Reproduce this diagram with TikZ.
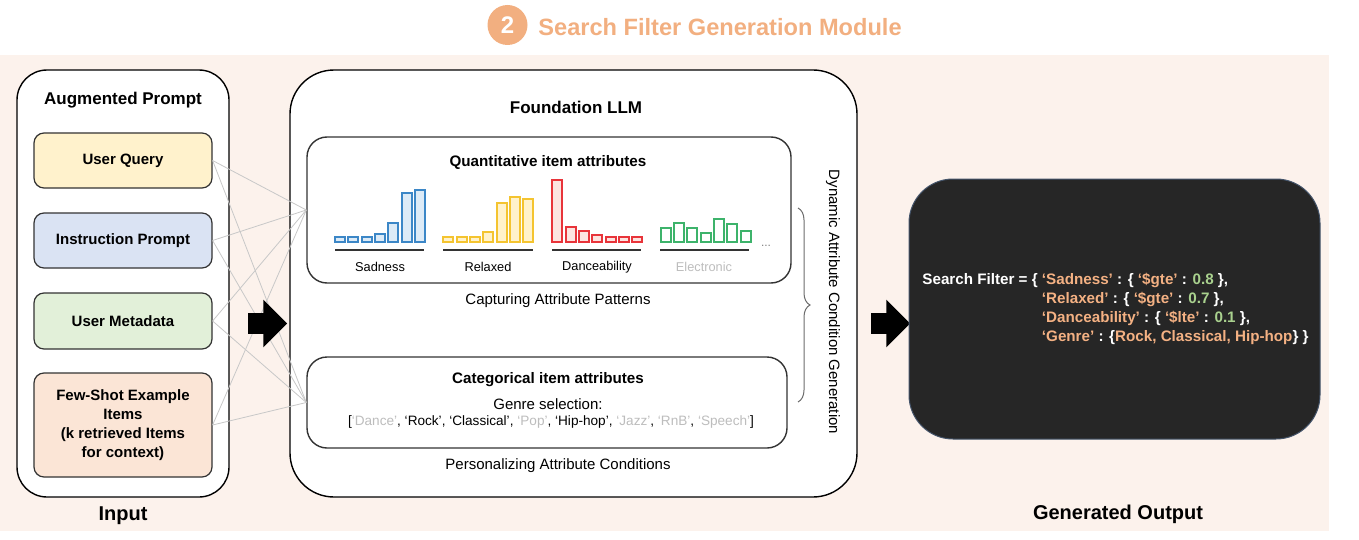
\documentclass[tikz,border=0pt]{standalone}
\usepackage{fontspec}
\setmainfont{Liberation Sans}
\usetikzlibrary{fit,decorations.pathreplacing,shapes.arrows}
\definecolor{bgpeach}{HTML}{FCF2EC}
\definecolor{titleor}{HTML}{F2AF80}
\definecolor{uqc}{HTML}{FFF2CC}
\definecolor{ipc}{HTML}{DAE3F3}
\definecolor{umc}{HTML}{E2F0D9}
\definecolor{fsc}{HTML}{FBE5D6}
\definecolor{edgec}{HTML}{333333}
\definecolor{linkc}{HTML}{C8C8C8}
\definecolor{codebg}{HTML}{262626}
\definecolor{codeedge}{HTML}{44546A}
\definecolor{codeor}{HTML}{F4B183}
\definecolor{codegr}{HTML}{A9D18E}
\definecolor{lightg}{HTML}{BDBDBD}
\definecolor{sadS}{HTML}{3C87C7}
\definecolor{sadF}{HTML}{DDEBF7}
\definecolor{relS}{HTML}{F4C430}
\definecolor{relF}{HTML}{FFF2CC}
\definecolor{danS}{HTML}{E8343A}
\definecolor{danF}{HTML}{FCE4E0}
\definecolor{eleS}{HTML}{3DB36B}
\definecolor{eleF}{HTML}{FFFFFF}
\newcommand\ko[1]{\textcolor{codeor}{#1}}
\newcommand\kg[1]{\textcolor{codegr}{#1}}
\newcommand\lgtxt[1]{\textcolor{lightg}{#1}}
\begin{document}
\begin{tikzpicture}[x=0.5pt,y=-0.5pt,
  panel/.style={draw=black, line width=0.7pt, fill=white, inner sep=0pt},
  inbox/.style={draw=edgec, line width=0.6pt, rounded corners=5pt, inner sep=0pt},
  boxtxt/.style={align=center, font=\bfseries\fontsize{7.5}{9.5}\selectfont},
  subbox/.style={draw=edgec, line width=0.7pt, fill=white, rounded corners=10pt, inner sep=0pt},
  link/.style={draw=linkc, line width=0.4pt},
  bigarrow/.style={single arrow, fill=black, draw=none, inner sep=0pt, minimum width=23.5pt, minimum height=19.5pt, single arrow head extend=6.75pt},
  heading/.style={font=\bfseries\fontsize{8.5}{10}\selectfont},
  captxt/.style={font=\fontsize{7.5}{9}\selectfont},
  barlabel/.style={font=\fontsize{6.4}{8}\selectfont},
  baseln/.style={draw=edgec, line width=1pt},
  bar/.style={line width=0.9pt}
]
\useasboundingbox (0,0) rectangle (1359,540);
\fill[bgpeach] (0,55) rectangle (1329,531);

% title
\node[circle, fill=titleor, minimum size=20pt, inner sep=0pt, text=white, font=\bfseries\fontsize{12}{14}\selectfont] (num) at (507.5,25) {2};
\node[anchor=west, text=titleor, inner sep=0pt, font=\bfseries\fontsize{11.8}{14}\selectfont] (title) at (538,27) {Search Filter Generation Module};

% panels
\node[panel, rounded corners=15pt, fit={(17,70) (229,497)}] (inputp) {};
\node[panel, rounded corners=22pt, fit={(290,70) (857,497)}] (llmp) {};
\node[heading] (augt) at (123,100) {Augmented Prompt};
\node[heading] (llmt) at (576,107) {Foundation LLM};

% input boxes
\node[inbox, fill=uqc, fit={(34,133) (212,188)}] (uq) {};
\node[inbox, fill=ipc, fit={(34,213) (212,268)}] (ip) {};
\node[inbox, fill=umc, fit={(34,293) (212,349)}] (um) {};
\node[inbox, fill=fsc, fit={(34,373) (212,477)}] (fs) {};
\node[boxtxt] (uqt) at (uq.center) {User Query};
\node[boxtxt] (ipt) at (ip.center) {Instruction Prompt};
\node[boxtxt] (umt) at (um.center) {User Metadata};
\node[boxtxt] (fst) at (fs.center) {Few-Shot Example\\Items\\(k retrieved Items\\for context)};

% LLM inner boxes
\node[subbox, fit={(307,137) (791,283)}] (quant) {};
\node[subbox, fit={(307,357) (787,448)}] (categ) {};
\node[font=\bfseries\fontsize{7.6}{9}\selectfont] (quantt) at (548,162) {Quantitative item attributes};
\node[captxt] (capt) at (558,301) {Capturing Attribute Patterns};
\node[font=\bfseries\fontsize{7.6}{9}\selectfont] (categt) at (548,380) {Categorical item attributes};
\node[captxt] (genresel) at (548,404) {Genre selection:};
\node[font=\fontsize{6.8}{8}\selectfont] (glist) at (551,422) {[\lgtxt{‘Dance’}, ‘Rock’, ‘Classical’, \lgtxt{‘Pop’}, ‘Hip-hop’, \lgtxt{‘Jazz’}, \lgtxt{‘RnB’}, \lgtxt{‘Speech’}]};
\node[captxt] (pers) at (558,466) {Personalizing Attribute Conditions};

% bars
\foreach \t [count=\i from 0] in {237,237,237,234,223,193,190}
  \draw[bar, draw=sadS, fill=sadF] ({335+\i*13.33},\t) rectangle ({345+\i*13.33},242);
\foreach \t [count=\i from 0] in {237,237,237,232,203,197,199}
  \draw[bar, draw=relS, fill=relF] ({443.3+\i*13.33},\t) rectangle ({453.3+\i*13.33},242);
\foreach \t [count=\i from 0] in {180,227,231,235,237,237,237}
  \draw[bar, draw=danS, fill=danF] ({552.3+\i*13.33},\t) rectangle ({562.3+\i*13.33},242);
\foreach \t [count=\i from 0] in {228,223,228,233,219,224,231}
  \draw[bar, draw=eleS, fill=eleF] ({660.7+\i*13.33},\t) rectangle ({670.7+\i*13.33},242);
\draw[baseln] (335,250) -- (424,250);
\draw[baseln] (443,250) -- (533,250);
\draw[baseln] (552,250) -- (641,250);
\draw[baseln] (660,250) -- (749,250);
\node[barlabel] (lsad) at (380,267) {Sadness};
\node[barlabel] (lrel) at (488,267) {Relaxed};
\node[barlabel] (ldan) at (597,267) {Danceability};
\node[barlabel, text=lightg] (lele) at (704,267) {Electronic};
\node[font=\fontsize{6}{7}\selectfont, text=gray] (dots) at (766,246) {...};

% brace + vertical text
\draw[decorate, decoration={brace, amplitude=6pt}, draw=gray!85!black, line width=0.5pt] (798,208) -- (798,402);
\node[captxt, rotate=-90] (dacg) at (833,302) {Dynamic Attribute Condition Generation};

% connectors
\foreach \s in {uq,ip,um,fs}
  \foreach \t in {quant,categ}
    \draw[link] (\s.east) -- (\t.west);

% arrows
\node[bigarrow] (arr1) at (262.5,323.5) {\rule{0pt}{10pt}};
\node[bigarrow] (arr2) at (885.5,323.5) {\rule{0pt}{10pt}};

% output
\node[draw=codeedge, line width=0.5pt, fill=codebg, rounded corners=22pt, inner sep=0pt, fit={(909,179) (1320,439)}] (outbox) {};
\node[anchor=west, align=left, inner sep=0pt, text=white, font=\bfseries\fontsize{7.6}{9.5}\selectfont] (code) at (922,309) {%
Search Filter = \{ \ko{‘Sadness’} : \{ \ko{‘\$gte’} : \kg{0.8} \},\\
\phantom{Search Filter = \{ }\ko{‘Relaxed’} : \{ \ko{‘\$gte’} : \kg{0.7} \},\\
\phantom{Search Filter = \{ }\ko{‘Danceability’} : \{ \ko{‘\$lte’} : \kg{0.1} \},\\
\phantom{Search Filter = \{ }\ko{‘Genre’} : \{\ko{Rock, Classical, Hip-hop}\} \}};

% bottom labels
\node[font=\bfseries\fontsize{10}{12}\selectfont] (inlabel) at (123,516) {Input};
\node[font=\bfseries\fontsize{10}{12}\selectfont] (outlabel) at (1118,514) {Generated Output};
\end{tikzpicture}
\end{document}
